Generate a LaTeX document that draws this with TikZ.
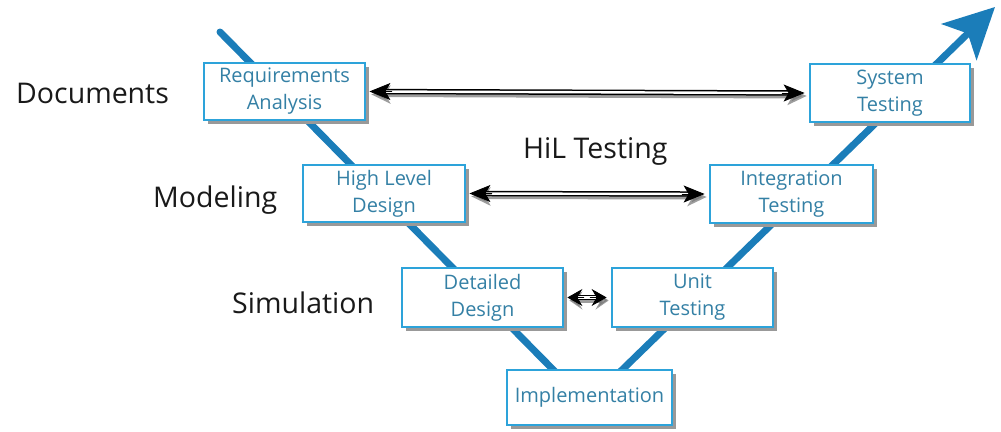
\documentclass[tikz,border=0pt]{standalone}
\usepackage{fontspec}
\setmainfont{Open Sans}
\usetikzlibrary{arrows.meta}
\definecolor{vblue}{RGB}{27,125,185}
\definecolor{boxline}{RGB}{45,163,218}
\definecolor{boxtext}{RGB}{52,128,165}
\begin{document}
\begin{tikzpicture}[x=1pt,y=-1pt,
  vbox/.style={draw=boxline, line width=2.8pt, fill=white, inner sep=0pt,
    align=center, text=boxtext, font=\fontsize{20}{27}\selectfont,
    preaction={draw=none, fill=black!40, transform canvas={shift={(4pt,-4pt)}}}},
  phase/.style={font=\fontsize{28.5}{30}\selectfont, anchor=base west, text=black!90, inner sep=0pt},
  linktip/.style={draw=black, fill=black, line width=0.8pt, -{Stealth[length=#1,width=17pt,inset=5pt]}},
  linkbody/.style={draw=black, double=white, double distance=2.4pt, line width=1.5pt,
    shorten <=#1, shorten >=#1},
  linkshadow/.style={draw=black!55, line width=5pt, opacity=0.7,
    {Stealth[length=#1,width=18pt,inset=5pt]}-{Stealth[length=#1,width=18pt,inset=5pt]}}
]
\useasboundingbox (0,0) rectangle (1001,431);
% V line
\coordinate (vtop) at (220,32);
\coordinate (vbot) at (587,404);
\coordinate (vtip) at (995,7);
\draw[vblue, line width=7pt, line cap=round, line join=round,
  -{Stealth[length=50pt,width=50pt,inset=12pt]}] (vtop) -- (vbot) -- (vtip);
% boxes
\node[vbox, minimum width=161pt, minimum height=57pt] (ra) at (284.5,91.5) {Requirements\\Analysis};
\node[vbox, minimum width=160pt, minimum height=58pt] (st) at (890,93) {System\\Testing};
\node[vbox, minimum width=162pt, minimum height=57pt] (hld) at (384,193.5) {High Level\\Design};
\node[vbox, minimum width=163pt, minimum height=58pt] (it) at (791.5,194) {Integration\\Testing};
\node[vbox, minimum width=161pt, minimum height=59pt] (dd) at (482.5,297.5) {Detailed\\Design};
\node[vbox, minimum width=161pt, minimum height=59pt] (ut) at (692.5,297.5) {Unit\\Testing};
\node[vbox, minimum width=165pt, minimum height=55pt] (imp) at (589.5,397.5) {Implementation};
% labels
\node[phase] (doc) at (16,103) {Documents};
\node[phase] (mod) at (153,207) {Modeling};
\node[phase] (sim) at (232,313) {Simulation};
\node[phase] (hil) at (523,158) {HiL Testing};
% links
\foreach \a/\b/\L in {ra/st/21, hld/it/21, dd/ut/15}{
  \draw[linkshadow=\L pt-2pt] ([shift={(5,3)}]\a.east) -- ([shift={(-2,3)}]\b.west);
  \draw[linkbody=\L pt-6pt] ([xshift=3pt]\a.east) -- ([xshift=-4pt]\b.west);
  \draw[linktip=\L pt] ([xshift=\L pt+5pt]\a.east) -- ([xshift=3pt]\a.east);
  \draw[linktip=\L pt] ([xshift=-\L pt-6pt]\b.west) -- ([xshift=-4pt]\b.west);
}
\end{tikzpicture}
\end{document}
